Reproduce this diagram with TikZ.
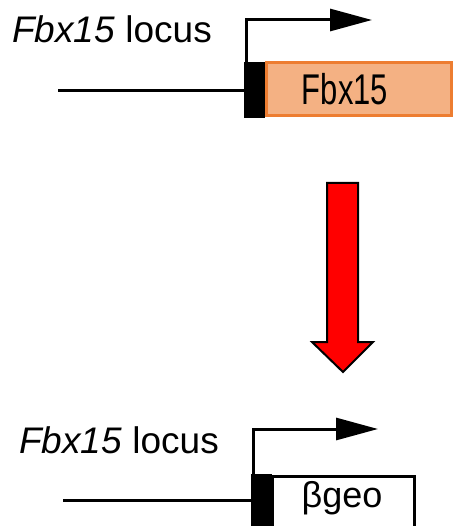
\documentclass[tikz,border=0pt]{standalone}
\usepackage{fontspec}
\setmainfont{Liberation Sans}
\usetikzlibrary{arrows.meta}
\definecolor{boxfill}{HTML}{F4B183}
\definecolor{boxedge}{HTML}{ED7D31}
\tikzset{
  locuslabel/.style={anchor=base west, inner sep=0pt, font=\fontsize{37}{37}\selectfont},
  dnaline/.style={line width=3pt},
  promoter/.style={line width=3pt, -{Triangle[length=42pt,width=22pt]}},
  exonblock/.style={fill=black},
  genebox/.style={line width=3pt},
  bigarrow/.style={fill=red, draw=black, line width=2pt, line join=miter}
}
\begin{document}
\begin{tikzpicture}[x=1pt, y=-1pt]
  \useasboundingbox (0,0) rectangle (452,526);

  % --- wild-type locus ---
  \node[locuslabel] (lab1) at (12,43) {\textit{Fbx15} locus};
  \coordinate (l1s) at (58,91);
  \coordinate (l1e) at (245,91);
  \draw[dnaline] (l1s) -- (l1e);
  \draw[genebox, draw=boxedge, fill=boxfill] (266,63) rectangle (451,116);
  \node[font=\fontsize{43}{43}\selectfont, inner sep=0pt] (gene1) at (345,89)
    {\scalebox{0.72}[1]{Fbx15}};
  \fill[exonblock] (244,62) rectangle (265,118);
  \coordinate (p1a) at (246,63);
  \coordinate (p1b) at (246,20);
  \coordinate (p1c) at (372,20);
  \draw[promoter] (p1a) -- (p1b) -- (p1c);

  % --- transition arrow ---
  \draw[bigarrow] (327,183) -- (358,183) -- (358,342) -- (373,342)
    -- (343,372) -- (312,342) -- (327,342) -- cycle;

  % --- targeted locus ---
  \node[locuslabel] (lab2) at (19,453) {\textit{Fbx15} locus};
  \coordinate (l2s) at (63,500);
  \coordinate (l2e) at (252,500);
  \draw[dnaline] (l2s) -- (l2e);
  \draw[genebox, draw=black, fill=white] (272,476) rectangle (414,540);
  \node[font=\fontsize{36}{36}\selectfont] (gene2) at (342,498) {βgeo};
  \fill[exonblock] (251,474) rectangle (272,530);
  \coordinate (p2a) at (253,475);
  \coordinate (p2b) at (253,429);
  \coordinate (p2c) at (378,429);
  \draw[promoter] (p2a) -- (p2b) -- (p2c);
\end{tikzpicture}
\end{document}
